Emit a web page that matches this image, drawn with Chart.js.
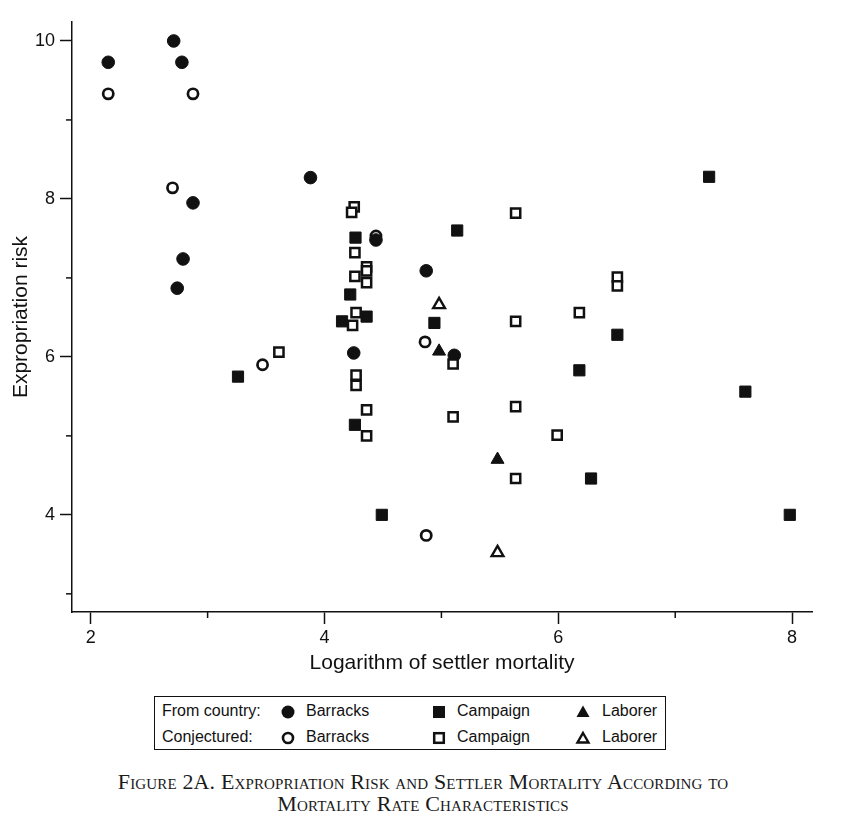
<!DOCTYPE html>
<html lang="en">
<head>
    <meta charset="UTF-8">
    <title>Expropriation Risk and Settler Mortality</title>
    <script src="https://cdn.jsdelivr.net/npm/chart.js"></script>

    <style>
        body {
            margin: 0;
            background-color: #fff;
            font-family: "Liberation Sans", Arial, sans-serif;
        }

        .page {
            position: relative;
            width: 846px;
            height: 824px;
        }

        #riskChart {
            position: absolute;
            left: 0;
            top: 0;
        }

        .legend-box {
            position: absolute;
            left: 154px;
            top: 696px;
            width: 510px;
            height: 52px;
            border: 1.5px solid #111;
            font-size: 16px;
            color: #111;
        }

        .legend-box span, .legend-box svg {
            position: absolute;
        }

        .caption {
            position: absolute;
            left: 0;
            top: 771px;
            width: 846px;
            text-align: center;
            font-family: "Liberation Serif", "Times New Roman", serif;
            font-variant: small-caps;
            font-size: 22px;
            letter-spacing: 0.15px;
            line-height: 22px;
            color: #1a1a1a;
        }
    </style>
</head>
<body>

<div class="page">
    <canvas id="riskChart" width="846" height="690"></canvas>

    <!-- Legenda em grade: linha = origem, coluna = tipo -->
    <div class="legend-box">
        <span style="left:7px; top:5px;">From country:</span>
        <span style="left:7px; top:31px;">Conjectured:</span>

        <svg style="left:125px; top:7px;" width="16" height="16"><circle cx="8" cy="8" r="6.5" fill="#111"/></svg>
        <span style="left:151px; top:5px;">Barracks</span>
        <svg style="left:125px; top:33px;" width="16" height="16"><circle cx="8" cy="8" r="5" fill="#fff" stroke="#111" stroke-width="2.6"/></svg>
        <span style="left:151px; top:31px;">Barracks</span>

        <svg style="left:276px; top:7px;" width="16" height="16"><rect x="2" y="2" width="12" height="12" fill="#111"/></svg>
        <span style="left:302px; top:5px;">Campaign</span>
        <svg style="left:276px; top:33px;" width="16" height="16"><rect x="3.2" y="3.2" width="9.6" height="9.6" fill="#fff" stroke="#111" stroke-width="2.5"/></svg>
        <span style="left:302px; top:31px;">Campaign</span>

        <svg style="left:420px; top:7px;" width="16" height="16"><polygon points="8,1.5 14.5,13 1.5,13" fill="#111"/></svg>
        <span style="left:447px; top:5px;">Laborer</span>
        <svg style="left:420px; top:33px;" width="16" height="16"><polygon points="8,3 13.5,12.5 2.5,12.5" fill="#fff" stroke="#111" stroke-width="2.4" stroke-linejoin="miter"/></svg>
        <span style="left:447px; top:31px;">Laborer</span>
    </div>

    <div class="caption">
        Figure 2A. Expropriation Risk and Settler Mortality According to<br>
        Mortality Rate Characteristics
    </div>
</div>

<script>
    // Barracks, from country
    const barracksCountryX = [2.15, 2.71, 2.78, 3.88, 2.875, 2.79, 2.74, 4.44, 4.87, 4.25, 5.11];
    const barracksCountryY = [9.73, 10.0, 9.73, 8.27, 7.95, 7.24, 6.87, 7.48, 7.09, 6.05, 6.02];

    // Barracks, conjectured
    const barracksConjX = [2.15, 2.875, 2.70, 3.47, 4.86, 4.87, 4.44];
    const barracksConjY = [9.33, 9.33, 8.14, 5.90, 6.19, 3.74, 7.53];

    // Campaign, from country
    const campaignCountryX = [3.26, 4.265, 4.22, 4.36, 4.15, 4.26, 4.49, 4.94, 5.135, 6.18, 6.28, 6.505, 7.29, 7.60, 7.98];
    const campaignCountryY = [5.75, 7.51, 6.79, 6.51, 6.45, 5.14, 4.00, 6.43, 7.60, 5.83, 4.46, 6.28, 8.28, 5.56, 4.00];

    // Campaign, conjectured
    const campaignConjX = [4.254, 4.232, 4.26, 4.36, 4.36, 4.36, 4.26, 4.27, 4.24, 4.27, 4.27, 4.36,
                           4.36, 3.61, 5.10, 5.10, 5.635, 5.635, 5.635, 5.635, 5.99, 6.18, 6.505, 6.505];
    const campaignConjY = [7.90, 7.83, 7.32, 7.14, 7.09, 6.94, 7.02, 6.56, 6.40, 5.77, 5.64, 5.33,
                           5.00, 6.06, 5.91, 5.24, 7.82, 6.45, 5.37, 4.46, 5.01, 6.56, 7.01, 6.90];

    // Laborer
    const laborerCountryX = [4.98, 5.48];
    const laborerCountryY = [6.07, 4.70];
    const laborerConjX = [4.98, 5.48];
    const laborerConjY = [6.66, 3.52];

    // Eixos
    const xMin = 1.84, xMax = 8.17;
    const yMin = 2.77, yMax = 10.24;
    const xMajorTicks = [2, 4, 6, 8];
    const xMinorTicks = [3, 5, 7];
    const yMajorTicks = [4, 6, 8, 10];
    const yMinorTicks = [3, 5, 7, 9];

    const INK = '#111';
    const FONT = '"Liberation Sans", Arial, sans-serif';

    function toPoints(xs, ys) {
        return xs.map((x, i) => ({ x: x, y: ys[i] }));
    }

    function hollow(label, xs, ys, style, radius, width) {
        return {
            label: label,
            data: toPoints(xs, ys),
            pointStyle: style,
            pointRadius: radius,
            borderWidth: width,
            borderColor: INK,
            backgroundColor: '#fff'
        };
    }

    function solid(label, xs, ys, style, radius) {
        return {
            label: label,
            data: toPoints(xs, ys),
            pointStyle: style,
            pointRadius: radius,
            borderWidth: 1,
            borderColor: INK,
            backgroundColor: INK
        };
    }

    // o primeiro dataset fica por cima no desenho
    const datasets = [
        hollow('Laborer (conjectured)', laborerConjX, laborerConjY, 'triangle', 6.8, 2.4),
        solid('Laborer (country)', laborerCountryX, laborerCountryY, 'triangle', 7.5),
        hollow('Campaign (conjectured)', campaignConjX, campaignConjY, 'rect', 6.5, 2.5),
        solid('Campaign (country)', campaignCountryX, campaignCountryY, 'rect', 7.9),
        solid('Barracks (country)', barracksCountryX, barracksCountryY, 'circle', 6.3),
        hollow('Barracks (conjectured)', barracksConjX, barracksConjY, 'circle', 5.1, 2.7)
    ];

    // ticks menores (sem rótulo, mais curtos)
    const minorTicks = {
        id: 'minorTicks',
        afterDraw(chart) {
            const { ctx, chartArea, scales } = chart;
            ctx.save();
            ctx.strokeStyle = INK;
            ctx.lineWidth = 1.5;
            xMinorTicks.forEach(v => {
                const px = scales.x.getPixelForValue(v);
                ctx.beginPath();
                ctx.moveTo(px, chartArea.bottom);
                ctx.lineTo(px, chartArea.bottom + 6);
                ctx.stroke();
            });
            yMinorTicks.forEach(v => {
                const py = scales.y.getPixelForValue(v);
                ctx.beginPath();
                ctx.moveTo(chartArea.left, py);
                ctx.lineTo(chartArea.left - 6, py);
                ctx.stroke();
            });
            ctx.restore();
        }
    };

    const axisGrid = {
        display: true,
        drawOnChartArea: false,
        drawTicks: true,
        tickLength: 12,
        tickColor: INK,
        tickWidth: 1.5
    };

    const ctx = document.getElementById('riskChart').getContext('2d');
    const riskChart = new Chart(ctx, {
        type: 'scatter',
        data: { datasets: datasets },
        options: {
            responsive: false,
            animation: false,
            layout: {
                padding: { top: 22, right: 34, bottom: 14, left: 0 }
            },
            plugins: {
                legend: { display: false },
                tooltip: { enabled: false }
            },
            scales: {
                x: {
                    type: 'linear',
                    min: xMin,
                    max: xMax,
                    afterBuildTicks: scale => { scale.ticks = xMajorTicks.map(v => ({ value: v })); },
                    afterFit: scale => { scale.height = 64; },
                    ticks: {
                        color: INK,
                        padding: 3,
                        maxRotation: 0,
                        autoSkip: false,
                        font: { family: FONT, size: 18 }
                    },
                    grid: axisGrid,
                    border: { display: true, color: INK, width: 1.5 },
                    title: {
                        display: true,
                        text: 'Logarithm of settler mortality',
                        color: INK,
                        padding: { top: 0, bottom: 0 },
                        font: { family: FONT, size: 21 }
                    }
                },
                y: {
                    type: 'linear',
                    min: yMin,
                    max: yMax,
                    afterBuildTicks: scale => { scale.ticks = yMajorTicks.map(v => ({ value: v })); },
                    afterFit: scale => { scale.width = 72; },
                    ticks: {
                        color: INK,
                        padding: 5,
                        autoSkip: false,
                        font: { family: FONT, size: 18 }
                    },
                    grid: axisGrid,
                    border: { display: true, color: INK, width: 1.5 },
                    title: {
                        display: true,
                        text: 'Expropriation risk',
                        color: INK,
                        padding: { top: 9, bottom: 0 },
                        font: { family: FONT, size: 21 }
                    }
                }
            }
        },
        plugins: [minorTicks]
    });
</script>

</body>
</html>
